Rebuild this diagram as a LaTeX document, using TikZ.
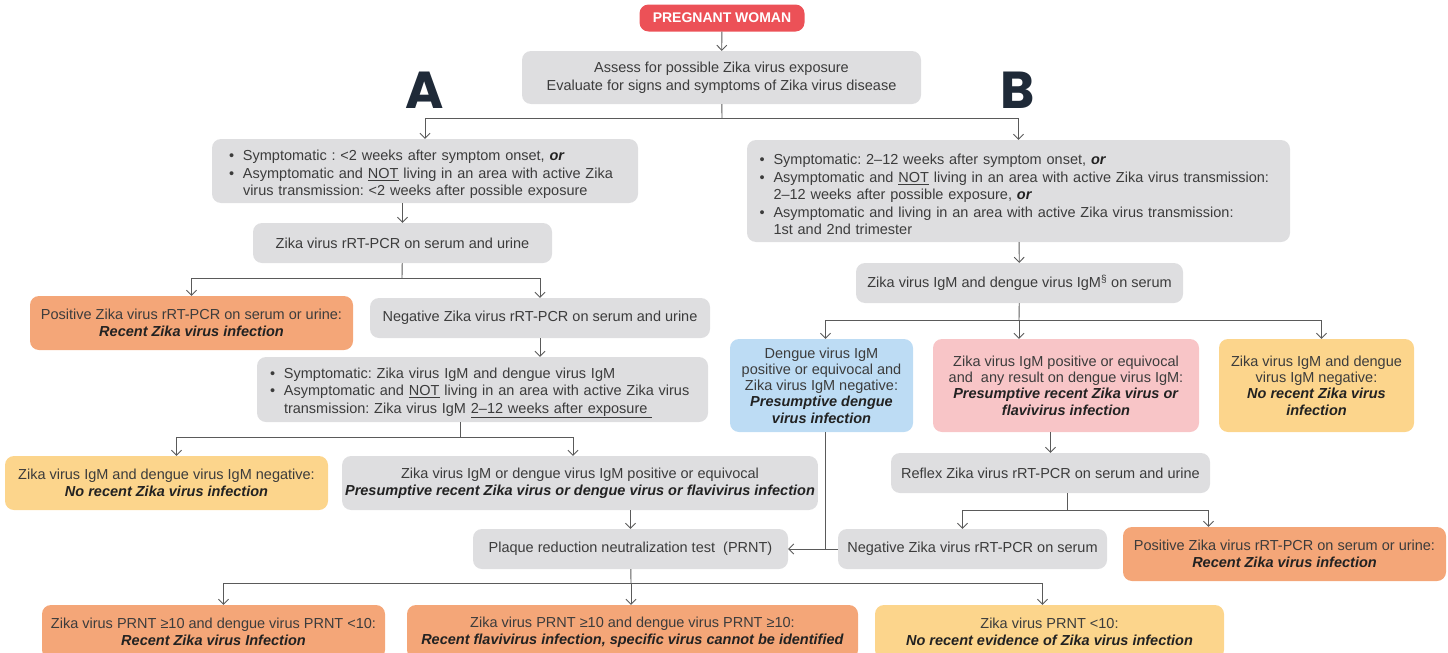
\documentclass[tikz,border=0pt]{standalone}
\usepackage{fontspec}
\setmainfont{Liberation Sans}
\newfontfamily\abfont{Poppins}
\usetikzlibrary{arrows.meta}
\frenchspacing

\definecolor{boxgray}{HTML}{DEDEE0}
\definecolor{boxorange}{HTML}{F4A678}
\definecolor{boxyellow}{HTML}{FCD58C}
\definecolor{boxblue}{HTML}{BDDCF4}
\definecolor{boxpink}{HTML}{F8C5C7}
\definecolor{boxred}{HTML}{EC5157}
\definecolor{txt}{HTML}{3C3C3C}
\definecolor{restxt}{HTML}{222222}
\definecolor{lin}{HTML}{5A5A5A}
\definecolor{navy}{HTML}{1F2A38}

\newcommand{\bul}[1]{\par\noindent\hangindent=14pt\hangafter=1\makebox[14pt][l]{\textbullet}#1\par}
\newcommand{\res}[1]{\textcolor{restxt}{\textbf{\textit{#1}}}}

\begin{document}
\begin{tikzpicture}[x=1pt,y=-1pt,
    font=\fontsize{14.5}{17.5}\selectfont,
    box/.style={rounded corners=9,align=center,text=txt,inner sep=3},
    gbox/.style={box,fill=boxgray},
    obox/.style={box,fill=boxorange},
    ybox/.style={box,fill=boxyellow},
    tbox/.style={box,font=\fontsize{14.5}{16.3}\selectfont},
    lbox/.style={box,fill=boxgray,align=left,text width=#1},
    line/.style={draw=lin,line width=0.9},
    arr/.style={line,-{Straight Barb[length=5,width=10]}},
    letter/.style={font=\abfont\bfseries\fontsize{52}{52}\selectfont,text=navy}]
    \useasboundingbox (0,0) rectangle (1448,653);
    \clip (0,0) rectangle (1448,653);

    \node[box,fill=boxred,text=white,font=\bfseries\fontsize{14}{16}\selectfont,minimum width=165,minimum height=27] (pw) at (722,18) {PREGNANT WOMAN};
    \node[gbox,minimum width=399,minimum height=53] (assess) at (721.5,77.5) {Assess for possible Zika virus exposure\\Evaluate for signs and symptoms of Zika virus disease};
    \node[letter] (la) at (425,90) {A};
    \node[letter] (lb) at (1018,90) {B};

    \node[lbox=392,minimum width=426,minimum height=64] (boxA) at (425,171) {%
        \bul{Symptomatic : <2 weeks after symptom onset, \res{or}}
        \bul{Asymptomatic and \underline{NOT} living in an area with active Zika\newline virus transmission: <2 weeks after possible exposure}};
    \node[lbox=518,minimum width=543,minimum height=102] (boxB) at (1018.5,191) {%
        \bul{Symptomatic: 2--12 weeks after symptom onset, \res{or}}
        \bul{Asymptomatic and \underline{NOT} living in an area with active Zika virus transmission:\newline 2--12 weeks after possible exposure, \res{or}}
        \bul{Asymptomatic and living in an area with active Zika virus transmission:\newline 1st and 2nd trimester}};

    \node[gbox,minimum width=299,minimum height=40] (pcr) at (402.5,243) {Zika virus rRT-PCR on serum and urine};
    \node[obox,minimum width=323,minimum height=54] (pos1) at (191.5,323) {Positive Zika virus rRT-PCR on serum or urine:\\\res{Recent Zika virus infection}};
    \node[gbox,minimum width=340,minimum height=40] (neg1) at (540,318) {Negative Zika virus rRT-PCR on serum and urine};
    \node[lbox=425,minimum width=451,minimum height=65] (symp) at (482.5,389.5) {%
        \bul{Symptomatic: Zika virus IgM and dengue virus IgM}
        \bul{Asymptomatic and \underline{NOT} living in an area with active Zika virus\newline transmission: Zika virus IgM \underline{2--12 weeks after exposure\ }}};
    \node[ybox,minimum width=323,minimum height=54] (yel1) at (166.5,483) {Zika virus IgM and dengue virus IgM negative:\\\res{No recent Zika virus infection}};
    \node[gbox,minimum width=464,minimum height=54] (gray2) at (580,483) {Zika virus IgM or dengue virus IgM positive or equivocal\\\res{Presumptive recent Zika virus or dengue virus or flavivirus infection}};
    \node[gbox,minimum width=315,minimum height=40] (prnt) at (630.5,549) {Plaque reduction neutralization test\ \ (PRNT)};

    \node[gbox,minimum width=327,minimum height=40] (igm) at (1019.5,283) {Zika virus IgM and dengue virus IgM\textsuperscript{§} on serum};
    \node[tbox,fill=boxblue,minimum width=183,minimum height=93] (blue) at (821.5,385.5) {Dengue virus IgM\\positive or equivocal and\\Zika virus IgM negative:\\\res{Presumptive dengue}\\\res{virus infection}};
    \node[tbox,fill=boxpink,minimum width=266,minimum height=93] (pink) at (1066,385.5) {Zika virus IgM positive or equivocal\\and\ \ any result on dengue virus IgM:\\\res{Presumptive recent Zika virus or}\\\res{flavivirus infection}};
    \node[tbox,fill=boxyellow,minimum width=195,minimum height=93] (yel2) at (1316.5,385.5) {Zika virus IgM and dengue\\virus IgM negative:\\\res{No recent Zika virus}\\\res{infection}};
    \node[gbox,minimum width=319,minimum height=40] (reflex) at (1050.5,473) {Reflex Zika virus rRT-PCR on serum and urine};
    \node[gbox,minimum width=269,minimum height=40] (neg2) at (972.5,549) {Negative Zika virus rRT-PCR on serum};
    \node[obox,minimum width=323,minimum height=54] (pos2) at (1284.5,554) {Positive Zika virus rRT-PCR on serum or urine:\\\res{Recent Zika virus infection}};

    \node[obox,minimum width=343,minimum height=54] (r1) at (213.5,632) {Zika virus PRNT ≥10 and dengue virus PRNT <10:\\\res{Recent Zika virus Infection}};
    \node[obox,minimum width=451,minimum height=54] (r2) at (632.5,632) {Zika virus PRNT ≥10 and dengue virus PRNT ≥10:\\\res{Recent flavivirus infection, specific virus cannot be identified}};
    \node[ybox,minimum width=349,minimum height=54] (r3) at (1049.5,632) {Zika virus PRNT <10:\\\res{No recent evidence of Zika virus infection}};

    \coordinate (j1) at (722,118);
    \coordinate (j2) at (402,278);
    \coordinate (j3) at (460,437);
    \coordinate (j4) at (631,583);
    \coordinate (j5) at (1019,320);
    \coordinate (j6) at (1067,510);
    \coordinate (j7) at ([xshift=4]blue.south);

    \draw[arr] (pw) -- (assess);
    \draw[line] (assess) -- (j1);
    \draw[arr] (j1) -| (boxA);
    \draw[arr] (j1) -| (boxB);

    \draw[arr] (boxA.south -| pcr) -- (pcr);
    \draw[line] (pcr) -- (j2);
    \draw[arr] (j2) -| (pos1);
    \draw[arr] (j2) -| (neg1);
    \draw[arr] (neg1) -- (neg1 |- symp.north);
    \draw[line] (symp.south -| j3) -- (j3);
    \draw[arr] (j3) -| ([xshift=10]yel1.north);
    \draw[arr] (j3) -| ([xshift=-7]gray2.north);
    \draw[arr] (gray2.south -| prnt) -- (prnt);
    \draw[line] (prnt) -- (j4);
    \draw[arr] (j4) -| ([xshift=10]r1.north);
    \draw[arr] (j4) -- (j4 |- r2.north);
    \draw[arr] (j4) -| ([xshift=-7]r3.north);

    \draw[arr] (boxB) -- (igm);
    \draw[line] (igm) -- (j5);
    \draw[arr] (j5) -| ([xshift=4]blue.north);
    \draw[arr] (j5) -- (j5 |- pink.north);
    \draw[arr] (j5) -| ([xshift=5]yel2.north);
    \draw[arr] (pink.south -| reflex) -- (reflex);
    \draw[line] (reflex.south -| j6) -- (j6);
    \draw[arr] (j6) -| ([xshift=-10]neg2.north);
    \draw[arr] (j6) -| ([xshift=-76]pos2.north);
    \draw[arr] (j7) |- (prnt);
    \draw[line] (neg2) -- (neg2 -| j7);
\end{tikzpicture}
\end{document}
